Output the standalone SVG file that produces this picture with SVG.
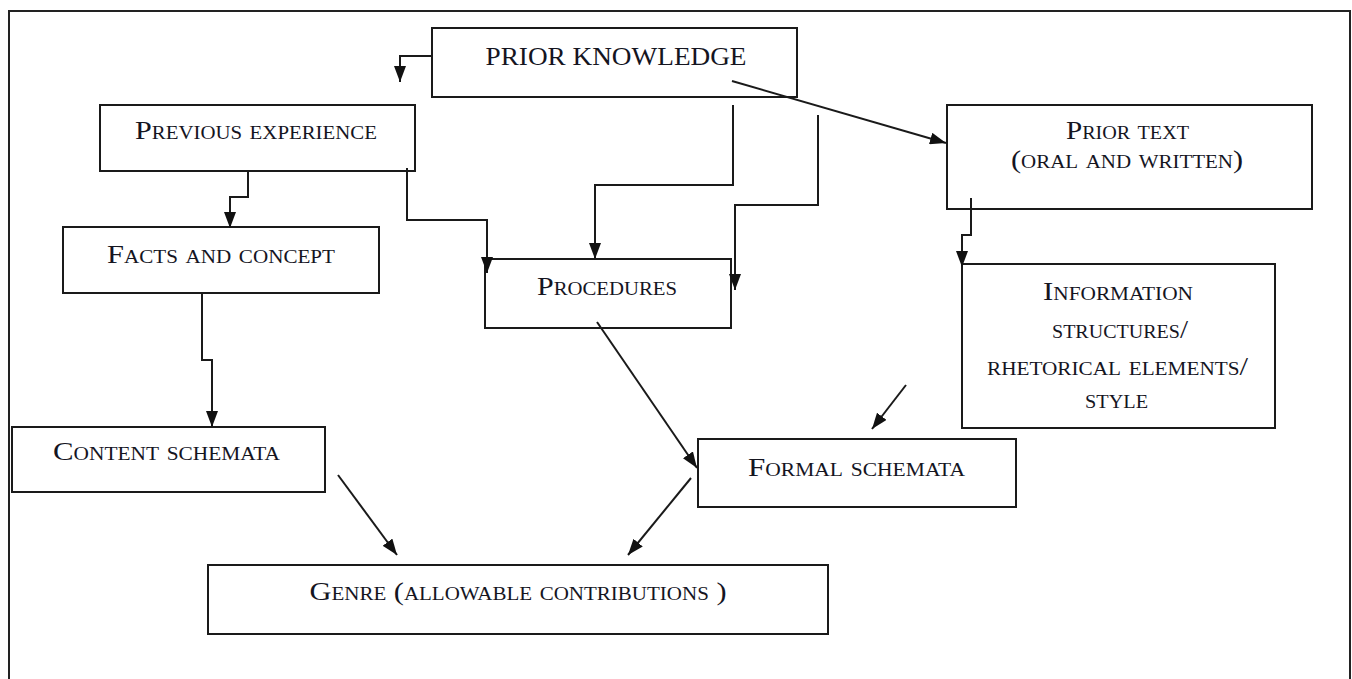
<svg xmlns="http://www.w3.org/2000/svg" width="1352" height="679" viewBox="0 0 1352 679">
<style>
.box{fill:#fff;stroke:#1a1a1a;stroke-width:2}
.lbl{font-family:"Liberation Serif","Times New Roman",serif;font-size:26px;fill:#15151f;text-anchor:middle;font-variant:small-caps}
.con{fill:none;stroke:#1a1a1a;stroke-width:2}
.frame{fill:none;stroke:#222;stroke-width:2}
</style>
<defs>
<marker id="ah" viewBox="0 0 16 12" refX="16" refY="6" markerWidth="16" markerHeight="12" markerUnits="userSpaceOnUse" orient="auto">
<path d="M0,0 L16,6 L0,12 z" fill="#111"/>
</marker>
</defs>
<rect width="1352" height="679" fill="#fff"/>
<path class="frame" d="M9,679 V11 H1350 V679"/>

<g id="prior-knowledge">
<rect class="box" x="432" y="28" width="365" height="69"/>
<text class="lbl" x="616" y="65" textLength="261" lengthAdjust="spacingAndGlyphs">PRIOR KNOWLEDGE</text>
</g>
<g id="previous-experience">
<rect class="box" x="100" y="105" width="315" height="66"/>
<text class="lbl" x="256" y="139" textLength="242" lengthAdjust="spacingAndGlyphs">Previous experience</text>
</g>
<g id="facts-and-concept">
<rect class="box" x="63" y="227" width="316" height="66"/>
<text class="lbl" x="221" y="263" textLength="228" lengthAdjust="spacingAndGlyphs">Facts and concept</text>
</g>
<g id="procedures">
<rect class="box" x="485" y="259" width="246" height="69"/>
<text class="lbl" x="607" y="295" textLength="140" lengthAdjust="spacingAndGlyphs">Procedures</text>
</g>
<g id="prior-text">
<rect class="box" x="947" y="105" width="365" height="104"/>
<text class="lbl" x="1127.5" y="139" textLength="123" lengthAdjust="spacingAndGlyphs">Prior text</text>
<text class="lbl" x="1127" y="168" textLength="232" lengthAdjust="spacingAndGlyphs">(oral and written)</text>
</g>
<g id="information-structures">
<rect class="box" x="962" y="264" width="313" height="164"/>
<text class="lbl" x="1118" y="300" textLength="150" lengthAdjust="spacingAndGlyphs">Information</text>
<text class="lbl" x="1120" y="338" textLength="136" lengthAdjust="spacingAndGlyphs">structures/</text>
<text class="lbl" x="1117.5" y="375" textLength="261" lengthAdjust="spacingAndGlyphs">rhetorical elements/</text>
<text class="lbl" x="1116.5" y="408" textLength="63" lengthAdjust="spacingAndGlyphs">style</text>
</g>
<g id="content-schemata">
<rect class="box" x="12" y="427" width="313" height="65"/>
<text class="lbl" x="166.5" y="460" textLength="227" lengthAdjust="spacingAndGlyphs">Content schemata</text>
</g>
<g id="formal-schemata">
<rect class="box" x="698" y="439" width="318" height="68"/>
<text class="lbl" x="856.5" y="476" textLength="217" lengthAdjust="spacingAndGlyphs">Formal schemata</text>
</g>
<g id="genre">
<rect class="box" x="208" y="565" width="620" height="69"/>
<text class="lbl" x="518" y="600" textLength="417" lengthAdjust="spacingAndGlyphs">Genre (allowable contributions )</text>
</g>

<g id="connectors">
<path class="con" marker-end="url(#ah)" d="M432,56 H400 V82"/>
<path class="con" marker-end="url(#ah)" d="M733,105 V185 H595 V259"/>
<path class="con" marker-end="url(#ah)" d="M818,115 V205 H735 V290"/>
<path class="con" marker-end="url(#ah)" d="M732,81 L946,143"/>
<path class="con" marker-end="url(#ah)" d="M248,171 V197 H230 V228"/>
<path class="con" marker-end="url(#ah)" d="M407,168 V220 H487 V273"/>
<path class="con" marker-end="url(#ah)" d="M971,198 V235 H962 V267"/>
<path class="con" marker-end="url(#ah)" d="M202,293 V360 H212 V427"/>
<path class="con" marker-end="url(#ah)" d="M597,322 L697,468"/>
<path class="con" marker-end="url(#ah)" d="M906,385 L872,429"/>
<path class="con" marker-end="url(#ah)" d="M338,475 L397,555"/>
<path class="con" marker-end="url(#ah)" d="M691,478 L628,555"/>
</g>
</svg>
